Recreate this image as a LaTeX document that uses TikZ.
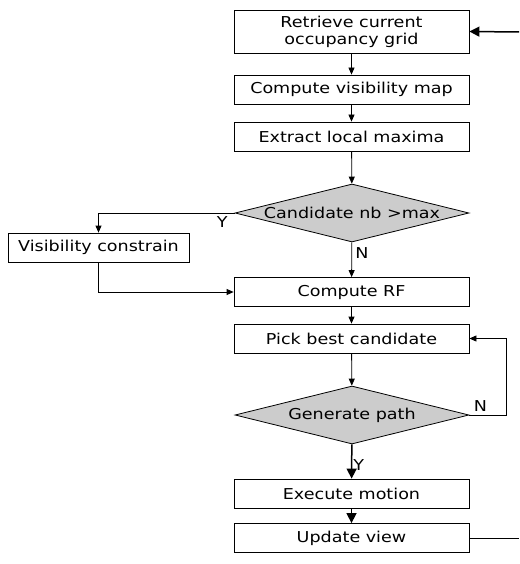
\documentclass[tikz,border=0pt]{standalone}
\usepackage{fontspec}
\setmainfont{DejaVu Sans}[FakeStretch=1.17]
\usetikzlibrary{shapes.geometric, arrows.meta}

\begin{document}
\begin{tikzpicture}[x=1pt, y=-1pt, font=\fontsize{15}{17}\selectfont,
    box/.style={draw, line width=0.8pt, minimum width=235pt, minimum height=29pt, inner sep=0pt, align=center},
    decision/.style={draw, line width=0.8pt, diamond, aspect=4, fill=black!20, minimum width=234pt, minimum height=58pt, inner sep=0pt},
    flow/.style={line width=0.8pt, -{Triangle[length=7pt, width=6pt]}},
    bigflow/.style={line width=1.5pt, -{Triangle[length=10pt, width=10pt]}}]
    \useasboundingbox (0,0) rectangle (519,564);
    \node[box, minimum height=43pt] (ret) at (351.5,31.5) {Retrieve current\\occupancy grid};
    \node[box] (vis) at (351.5,89.5) {Compute visibility map};
    \node[box] (ext) at (351.5,136.5) {Extract local maxima};
    \node[decision] (cand) at (352,213) {\makebox[100pt]{Candidate nb >max}};
    \node[box, minimum width=181pt] (con) at (98.5,247.5) {Visibility constrain};
    \node[box] (rf) at (351.5,292) {Compute RF};
    \node[box] (pick) at (351.5,338.5) {Pick best candidate};
    \node[decision] (gen) at (352,415) {\makebox[100pt]{Generate path}};
    \node[box] (exe) at (351.5,493.5) {Execute motion};
    \node[box] (upd) at (351.5,538) {Update view};
    \coordinate (in) at (519,32);
    \coordinate (out) at (519,538);
    % main column
    \draw[bigflow] (in) -- (ret.east);
    \draw[flow] (ret) -- (vis);
    \draw[flow] (vis) -- (ext);
    \draw[flow] (ext) -- (cand);
    \draw[flow] (cand) -- node[right, pos=0.3] {N} (rf);
    \draw[flow] (cand.west) -| node[below, pos=0.045] {Y} (con.north);
    \draw[flow] (con.south) |- (rf.west);
    \draw[flow] (rf) -- (pick);
    \draw[flow] (pick) -- (gen);
    \draw[flow] (gen.east) -- node[above, pos=0.3] {N} ++(37,0) |- (pick.east);
    \draw[bigflow] (gen) -- node[right, pos=0.6, inner sep=1pt] {Y} (exe);
    \draw[bigflow] (exe) -- (upd);
    \draw[line width=0.8pt] (upd.east) -- (out);
\end{tikzpicture}
\end{document}
